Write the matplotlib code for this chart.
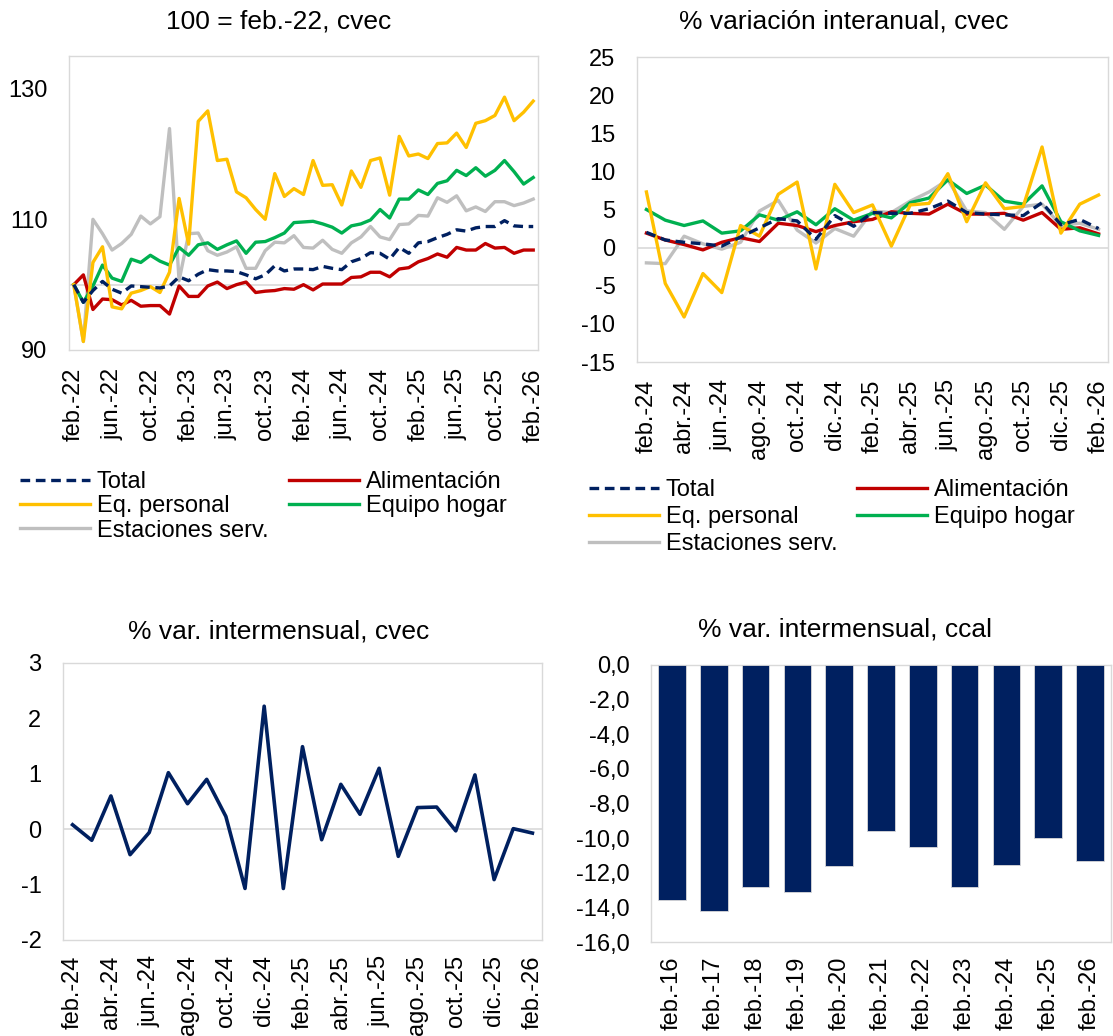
import matplotlib
matplotlib.use('Agg')
from matplotlib import pyplot as plt

plt.rcParams['font.family'] = ['Liberation Sans', 'DejaVu Sans']
plt.rcParams['axes.unicode_minus'] = False  # plain hyphen, as in the source

# --- Index 100 = feb.-22 (monthly, feb.-22 .. feb.-26) ---
idx_ticks = ['feb.-22', 'jun.-22', 'oct.-22', 'feb.-23', 'jun.-23', 'oct.-23', 'feb.-24',
             'jun.-24', 'oct.-24', 'feb.-25', 'jun.-25', 'oct.-25', 'feb.-26']
idx_total = [100, 97.3, 99.1, 100.5, 99.3, 98.7, 99.8, 99.7, 99.6, 99.5, 99.8, 101.2, 100.6,
             101.6, 102.3, 102.1, 102.1, 102.0, 101.5, 100.9, 101.5, 102.9, 102.1, 102.4, 102.4,
             102.3, 102.8, 102.5, 102.3, 103.5, 104.0, 104.9, 104.8, 103.9, 105.7, 104.8, 106.4,
             106.6, 107.2, 107.7, 108.4, 108.2, 108.7, 108.9, 108.9, 109.8, 109.0, 108.9, 108.9]
idx_alim = [100, 101.5, 96.2, 97.8, 97.7, 96.9, 97.6, 96.7, 96.8, 96.8, 95.5, 99.8, 98.2,
            98.2, 99.8, 100.4, 99.4, 100.0, 100.4, 98.8, 99.0, 99.1, 99.4, 99.3, 100.0,
            99.2, 100.1, 100.1, 100.1, 101.1, 101.2, 101.9, 101.9, 101.2, 102.4, 102.6, 103.5,
            104.0, 104.7, 104.2, 105.7, 105.3, 105.3, 106.3, 105.6, 105.7, 104.8, 105.3, 105.3]
idx_eqpers = [100, 91.3, 103.4, 105.8, 96.6, 96.3, 98.7, 99.1, 99.7, 98.8, 101.9, 113.2, 106.2,
              125.0, 126.6, 119.0, 119.2, 114.2, 113.3, 111.5, 110.0, 117.0, 113.5, 114.7, 113.8,
              119.0, 115.2, 115.3, 112.2, 117.4, 114.9, 119.0, 119.4, 113.7, 122.7, 119.7, 120.0,
              119.3, 121.6, 121.7, 123.2, 121.0, 124.7, 125.1, 125.9, 128.7, 125.1, 126.4, 128.1]
idx_hogar = [100, 97.3, 99.8, 103.0, 101.0, 100.5, 103.9, 103.4, 104.5, 103.6, 103.0, 105.7, 104.5,
             106.1, 106.4, 105.4, 106.1, 106.7, 104.8, 106.5, 106.6, 107.2, 107.9, 109.5, 109.6,
             109.7, 109.3, 108.8, 107.9, 109.0, 109.3, 109.9, 111.5, 110.2, 113.1, 113.1, 114.5,
             113.8, 115.5, 115.9, 117.5, 116.7, 117.9, 116.6, 117.5, 119.0, 117.3, 115.4, 116.4]
idx_estac = [100, 91.3, 110.0, 107.8, 105.3, 106.3, 107.7, 110.5, 109.3, 110.4, 123.9, 100.6, 107.8,
             107.9, 105.2, 104.5, 105.0, 105.8, 102.5, 102.5, 105.2, 106.5, 106.4, 107.5, 105.7,
             105.6, 106.8, 105.4, 104.8, 106.4, 107.3, 108.9, 107.3, 106.9, 109.2, 109.3, 110.6,
             110.5, 113.3, 112.6, 113.6, 111.3, 111.9, 111.2, 112.7, 112.7, 112.1, 112.5, 113.1]

# --- % variación interanual (feb.-24 .. feb.-26) ---
yoy_ticks = ['feb.-24', 'abr.-24', 'jun.-24', 'ago.-24', 'oct.-24', 'dic.-24', 'feb.-25',
             'abr.-25', 'jun.-25', 'ago.-25', 'oct.-25', 'dic.-25', 'feb.-26']
yoy_total = [2.0, 1.0, 0.7, 0.5, 0.2, 1.4, 2.6, 3.8, 3.5, 1.1, 4.2, 2.8, 4.6,
             4.5, 4.5, 5.1, 6.1, 4.6, 4.4, 4.3, 4.2, 5.9, 3.0, 3.7, 2.5]
yoy_alim = [1.9, 1.0, 0.4, -0.3, 0.7, 1.3, 0.8, 3.2, 2.9, 2.1, 2.9, 3.4, 3.7,
            4.7, 4.5, 4.4, 5.7, 4.4, 4.4, 4.5, 3.6, 4.6, 2.4, 2.6, 1.8]
yoy_eqpers = [7.3, -4.7, -9.1, -3.4, -5.9, 2.9, 1.5, 7.0, 8.6, -2.8, 8.3, 4.6, 5.6,
              0.2, 5.6, 5.8, 9.7, 3.4, 8.5, 5.1, 5.4, 13.2, 1.9, 5.7, 6.9]
yoy_hogar = [5.0, 3.6, 2.9, 3.5, 1.9, 2.2, 4.3, 3.6, 4.7, 3.0, 5.1, 3.6, 4.5,
             3.9, 5.9, 6.5, 8.9, 7.1, 8.2, 6.1, 5.7, 8.1, 3.4, 2.2, 1.6]
yoy_estac = [-2.0, -2.1, 1.5, 0.5, -0.2, 0.7, 4.8, 6.2, 2.3, 0.6, 2.5, 1.5, 4.8,
             4.6, 6.1, 7.3, 8.9, 4.8, 4.6, 2.4, 5.4, 5.7, 2.9, 3.2, 2.4]

# --- % var. intermensual, cvec (feb.-24 .. feb.-26) ---
mom_cvec = [0.08, -0.2, 0.6, -0.46, -0.06, 1.02, 0.46, 0.9, 0.23, -1.07, 2.22, -1.07, 1.49,
            -0.19, 0.81, 0.27, 1.1, -0.49, 0.39, 0.4, -0.03, 0.98, -0.91, 0.01, -0.07]

# --- % var. intermensual, ccal (febreros) ---
feb_labels = ['feb.-16', 'feb.-17', 'feb.-18', 'feb.-19', 'feb.-20', 'feb.-21',
              'feb.-22', 'feb.-23', 'feb.-24', 'feb.-25', 'feb.-26']
feb_ccal = [-13.6, -14.2, -12.85, -13.1, -11.6, -9.6, -10.5, -12.8, -11.55, -10.0, -11.3]

NAVY = '#002060'
RED = '#C00000'
YELLOW = '#FFC000'
GREEN = '#00B050'
GREY = '#BFBFBF'
FRAME = '#D9D9D9'
FS = 17        # ticks / legends
FS_TITLE = 19  # chart titles
LW = 2.4

W, H = 1113, 1036
fig = plt.figure(figsize=(W / 100, H / 100), dpi=100)


def box(l, t, r, b):
    # axes placed by pixel edges (left, top, right, bottom)
    return fig.add_axes([l / W, 1 - b / H, (r - l) / W, (b - t) / H])


def style(ax, xpad):
    for s in ax.spines.values():
        s.set_color(FRAME)
        s.set_linewidth(1)
    ax.tick_params(axis='both', length=0, labelsize=FS)
    ax.tick_params(axis='y', pad=15.5)
    ax.tick_params(axis='x', pad=xpad, labelrotation=90)


def five_lines(ax, series):
    x = range(len(series[0]))
    h_tot, = ax.plot(x, series[0], color=NAVY, lw=LW, ls=(0, (2.9, 1.7)), zorder=6)
    h_ali, = ax.plot(x, series[1], color=RED, lw=LW, zorder=3)
    h_eqp, = ax.plot(x, series[2], color=YELLOW, lw=LW, zorder=5)
    h_hog, = ax.plot(x, series[3], color=GREEN, lw=LW, zorder=4)
    h_est, = ax.plot(x, series[4], color=GREY, lw=LW, zorder=2)
    # column-major fill -> rows: Total|Alimentación, Eq. personal|Equipo hogar, Estaciones
    return [h_tot, h_eqp, h_est, h_ali, h_hog], ['Total', 'Eq. personal', 'Estaciones serv.',
                                                 'Alimentación', 'Equipo hogar']


def legend(handles, labels, x, y, rowsp, colsp):
    fig.legend(handles, labels, loc='upper left', bbox_to_anchor=(x / W, 1 - y / H),
               ncol=2, frameon=False, fontsize=FS, handlelength=2.95, handletextpad=0.3,
               labelspacing=rowsp, columnspacing=colsp, borderpad=0, borderaxespad=0)


# Top left: index
ax1 = box(69, 56, 538, 350)
style(ax1, 13)
h, lab = five_lines(ax1, [idx_total, idx_alim, idx_eqpers, idx_hogar, idx_estac])
ax1.axhline(100, color=FRAME, lw=1.2, zorder=1)
ax1.set_xlim(-0.5, len(idx_total) - 0.5)
ax1.set_ylim(90, 135)
ax1.set_yticks([90, 110, 130])
ax1.set_xticks(range(0, len(idx_total), 4))
ax1.set_xticklabels(idx_ticks)
fig.text(279 / W, 1 - 21 / H, '100 = feb.-22, cvec', ha='center', va='center', fontsize=FS_TITLE)
legend(h, lab, 20, 471, 0.1, 0.89)

# Top right: year-on-year
ax2 = box(637, 57, 1108, 362)
style(ax2, 12.5)
h, lab = five_lines(ax2, [yoy_total, yoy_alim, yoy_eqpers, yoy_hogar, yoy_estac])
ax2.axhline(0, color=FRAME, lw=1.2, zorder=1)
ax2.set_xlim(-0.5, len(yoy_total) - 0.5)
ax2.set_ylim(-15, 25)
ax2.set_yticks(range(-15, 30, 5))
ax2.set_xticks(range(0, len(yoy_total), 2))
ax2.set_xticklabels(yoy_ticks)
fig.text(844 / W, 1 - 21 / H, '% variación interanual, cvec', ha='center', va='center',
         fontsize=FS_TITLE)
legend(h, lab, 589, 479, 0.22, 0.85)

# Bottom left: month-on-month
ax3 = box(63, 663, 542, 940)
style(ax3, 11)
ax3.plot(range(len(mom_cvec)), mom_cvec, color=NAVY, lw=2.6, zorder=3)
ax3.axhline(0, color=FRAME, lw=1.2, zorder=1)
ax3.set_xlim(-0.5, len(mom_cvec) - 0.5)
ax3.set_ylim(-2, 3)
ax3.set_yticks(range(-2, 4))
ax3.set_xticks(range(0, len(mom_cvec), 2))
ax3.set_xticklabels(yoy_ticks)
fig.text(279 / W, 1 - 632 / H, '% var. intermensual, cvec', ha='center', va='center',
         fontsize=FS_TITLE)

# Bottom right: February bars
ax4 = box(651, 665, 1111, 942)
style(ax4, 10.5)
ax4.bar(range(len(feb_ccal)), feb_ccal, width=0.66, color=NAVY, edgecolor=FRAME, linewidth=0.6,
        zorder=3)
ax4.set_xlim(-0.5, len(feb_ccal) - 0.5)
ax4.set_ylim(-16, 0)
ax4.set_yticks(range(-16, 1, 2))
ax4.set_yticklabels([('%.1f' % v).replace('.', ',') for v in range(-16, 1, 2)])
ax4.set_xticks(range(len(feb_ccal)))
ax4.set_xticklabels(feb_labels)
fig.text(845 / W, 1 - 630 / H, '% var. intermensual, ccal', ha='center', va='center',
         fontsize=FS_TITLE)

fig.savefig('out.png', dpi=100, facecolor='white')
